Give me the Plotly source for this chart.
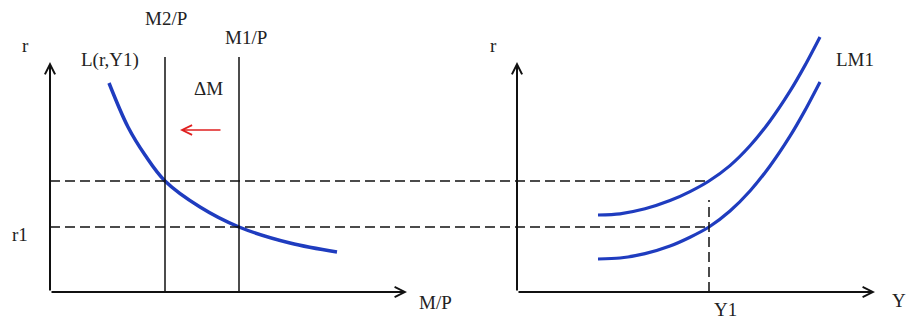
import plotly.graph_objects as go

# ---------------- data (diagram units) ----------------
# Left panel: money market (M/P on x, r on y)
mp_L = [2.95, 3.9, 4.75, 5.75, 7.5, 9.45, 12.0, 14.35]
r_L = [10.45, 8.25, 6.85, 5.55, 4.25, 3.25, 2.45, 2.0]
M2_P = 5.75
M1_P = 9.45
M_LINE_TOP = 11.75
r_levels = [5.55, 3.25]          # r2 (upper), r1 (lower)

# Right panel: LM curves (Y on x, r on y)
Y_LM = [4.05, 5.15, 6.4, 7.65, 8.65, 9.6, 10.65, 11.65, 12.65, 13.65, 14.4, 15.15]
r_LM_upper = [3.85, 3.91, 4.16, 4.57, 5.02, 5.55, 6.32, 7.31, 8.55, 10.04, 11.33, 12.75]
r_LM_lower = [1.65, 1.7, 1.92, 2.3, 2.74, 3.25, 4.05, 5.05, 6.3, 7.79, 9.08, 10.5]
Y1 = 9.6
Y1_DASH_TOP = 4.6

# Axis extents
LEFT_X_END, LEFT_Y_END = 17.85, 11.5
RIGHT_X_END, RIGHT_Y_END = 17.9, 11.5

# Axis ranges (same scale both panels; right panel is an overlaid x axis)
XR1 = [-2.5, 42.95]
XR2 = [-25.85, 19.6]
YR = [-1.45, 14.6]
PANEL_OFFSET = XR1[1] - XR2[1]   # right-panel origin expressed in left-panel units

BLUE = "#1f3cbf"
BLACK = "#111111"
TXT = "#222222"
FONT = "Liberation Serif"
DASH = "10px,5px"

fig = go.Figure()

# L(r, Y1) curve
fig.add_trace(go.Scatter(x=mp_L, y=r_L, mode="lines", line=dict(color=BLUE, width=3.5, shape="spline"),
                         xaxis="x", yaxis="y", hoverinfo="skip"))
# Money supply verticals
for m in (M2_P, M1_P):
    fig.add_trace(go.Scatter(x=[m, m], y=[0, M_LINE_TOP], mode="lines", line=dict(color=BLACK, width=1.5),
                             xaxis="x", yaxis="y", hoverinfo="skip"))
# Dashed horizontal links from left axis to the LM curves at Y1
for r in r_levels:
    fig.add_trace(go.Scatter(x=[0, Y1 + PANEL_OFFSET], y=[r, r], mode="lines",
                             line=dict(color=BLACK, width=1.5, dash=DASH),
                             xaxis="x", yaxis="y", hoverinfo="skip"))

# LM curves
for rr in (r_LM_upper, r_LM_lower):
    fig.add_trace(go.Scatter(x=Y_LM, y=rr, mode="lines",
                             line=dict(color=BLUE, width=3.2, shape="spline", smoothing=0.8),
                             xaxis="x2", yaxis="y", hoverinfo="skip"))
# Vertical dashed at Y1
fig.add_trace(go.Scatter(x=[Y1, Y1], y=[0, Y1_DASH_TOP], mode="lines",
                         line=dict(color=BLACK, width=1.5, dash=DASH),
                         xaxis="x2", yaxis="y", hoverinfo="skip"))

annotations = []


def arrow(xref, x0, y0, x1, y1, color=BLACK, width=2, size=1.0):
    annotations.append(dict(xref=xref, yref="y", axref=xref, ayref="y", x=x1, y=y1, ax=x0, ay=y0,
                            text="", showarrow=True, arrowhead=5, arrowwidth=width, arrowsize=size,
                            arrowcolor=color, standoff=0, startstandoff=0))


# Axes with arrowheads
arrow("x", 0, 0, 0, LEFT_Y_END)
arrow("x", 0, 0, LEFT_X_END, 0)
arrow("x2", 0, 0, 0, RIGHT_Y_END)
arrow("x2", 0, 0, RIGHT_X_END, 0)
# Red shift arrow (ΔM)
arrow("x", 8.6, 8.1, 6.5, 8.1, color="#e02020", width=1.5, size=1.3)


def label(xref, x, y, text):
    annotations.append(dict(xref=xref, yref="y", x=x, y=y, text=text, showarrow=False,
                            xanchor="center", yanchor="middle",
                            font=dict(family=FONT, size=19, color=TXT)))


label("x", -1.25, 12.35, "r")
label("x", 3.0, 11.6, "L(r,Y1)")
label("x", 5.8, 13.7, "M2/P")
label("x", 9.8, 12.75, "M1/P")
label("x", 7.9, 10.2, "ΔM")
label("x", -1.5, 2.9, "r1")
label("x", 19.25, -0.5, "M/P")
label("x2", -1.2, 12.35, "r")
label("x2", 10.4, -0.88, "Y1")
label("x2", 19.1, -0.4, "Y")
label("x2", 16.9, 11.65, "LM1")

fig.update_layout(
    width=909, height=321,
    margin=dict(l=0, r=0, t=0, b=0),
    paper_bgcolor="white", plot_bgcolor="white",
    showlegend=False,
    xaxis=dict(range=XR1, visible=False, fixedrange=True),
    xaxis2=dict(range=XR2, visible=False, overlaying="x", anchor="y", fixedrange=True),
    yaxis=dict(range=YR, visible=False, fixedrange=True),
    annotations=annotations,
)

fig.write_html("out.html", config={"displayModeBar": False},
               post_script="document.body.style.margin='0';document.body.style.overflow='hidden';")
